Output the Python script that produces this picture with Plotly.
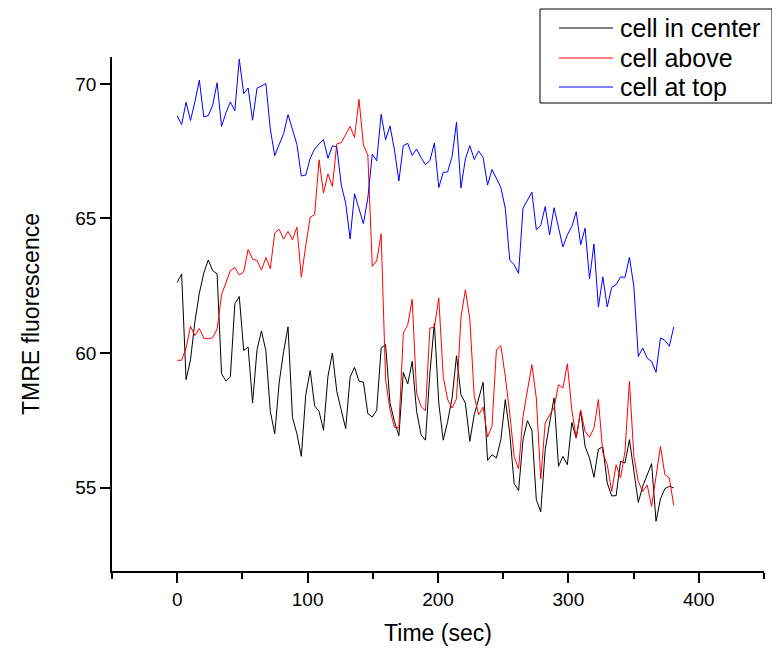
import plotly.graph_objects as go

# time axis: 113 frames, 3.4 s apart
n_frames = 113
frame_step = 3.4
time_sec = [round(i * frame_step, 1) for i in range(n_frames)]

cell_center = [
    62.62, 62.94, 59.01, 59.75, 61.17, 62.23, 62.97, 63.46, 63.06, 62.94,
    59.23, 58.96, 59.13, 61.83, 62.10, 60.09, 60.22, 58.14, 60.12, 60.82,
    60.09, 57.83, 57.00, 58.89, 60.06, 60.97, 57.61, 57.00, 56.16, 58.45,
    59.35, 58.04, 57.83, 57.13, 59.13, 60.00, 58.57, 57.83, 57.19, 59.11,
    59.47, 58.95, 58.92, 57.75, 57.62, 57.87, 60.19, 60.31, 58.14, 57.46,
    56.93, 59.28, 58.85, 59.69, 57.83, 56.97, 56.76, 59.26, 61.11, 58.14,
    56.76, 57.46, 58.33, 59.90, 58.45, 58.14, 56.72, 57.71, 58.33, 58.91,
    56.01, 56.22, 56.10, 56.78, 58.27, 57.03, 55.15, 54.89, 56.78, 57.49,
    57.13, 54.55, 54.10, 56.41, 57.40, 58.33, 55.79, 56.16, 55.85, 57.42,
    56.84, 57.87, 56.53, 56.10, 55.38, 56.43, 56.51, 55.17, 54.69, 54.70,
    55.98, 55.91, 56.78, 55.67, 54.45, 55.05, 55.48, 55.89, 53.75, 54.58,
    54.96, 55.05, 54.99,
]

cell_above = [
    59.73, 59.73, 60.19, 60.99, 60.65, 60.91, 60.55, 60.53, 60.57, 60.89,
    62.16, 62.60, 63.07, 63.17, 62.90, 63.01, 63.85, 63.49, 63.44, 63.08,
    63.55, 63.14, 64.46, 64.60, 64.23, 64.52, 64.21, 64.68, 62.82, 64.00,
    65.05, 65.14, 67.18, 65.94, 66.66, 66.19, 67.77, 67.82, 68.11, 68.42,
    68.01, 69.43, 67.73, 67.36, 63.22, 63.42, 64.43, 59.01, 57.89, 57.24,
    57.21, 60.74, 61.05, 62.00, 58.51, 58.01, 57.86, 60.93, 60.95, 62.04,
    59.13, 58.27, 57.96, 58.30, 61.32, 62.35, 61.26, 58.39, 57.71, 57.99,
    56.88, 57.28, 60.12, 60.27, 59.13, 57.77, 56.16, 55.69, 57.65, 58.64,
    59.57, 58.33, 55.32, 57.40, 57.71, 57.96, 58.82, 58.70, 59.60, 57.89,
    56.84, 57.87, 57.09, 56.87, 57.21, 58.27, 56.29, 55.85, 54.86, 55.85,
    55.36, 56.35, 58.95, 56.16, 55.23, 54.86, 55.10, 54.30, 55.36, 56.53,
    55.48, 55.36, 54.33,
]

cell_top = [
    68.81, 68.49, 69.32, 68.64, 69.34, 70.14, 68.77, 68.82, 69.21, 70.04,
    68.42, 68.93, 69.33, 69.00, 70.92, 69.64, 69.85, 68.65, 69.84, 69.94,
    70.01, 68.32, 67.33, 67.75, 68.15, 68.86, 68.28, 67.75, 66.58, 66.61,
    67.24, 67.58, 67.77, 67.93, 67.24, 67.70, 67.66, 66.25, 65.57, 64.24,
    65.92, 65.32, 64.81, 65.76, 67.39, 67.14, 68.87, 67.92, 68.44, 67.55,
    66.39, 67.71, 67.79, 67.34, 67.58, 67.26, 67.00, 67.15, 67.80, 66.15,
    66.71, 66.73, 67.30, 68.58, 66.13, 67.21, 67.71, 67.19, 67.51, 67.26,
    66.24, 66.82, 66.51, 66.15, 65.38, 63.46, 63.28, 62.96, 65.38, 65.69,
    65.98, 64.58, 64.74, 65.44, 64.39, 65.40, 64.64, 63.94, 64.39, 64.70,
    65.25, 64.02, 64.64, 62.75, 64.05, 61.71, 62.83, 61.71, 62.44, 62.54,
    62.83, 62.81, 63.56, 62.47, 59.87, 60.19, 59.81, 59.69, 59.28, 60.56,
    60.47, 60.25, 60.97,
]

series_names = ["cell in center", "cell above", "cell at top"]
series_colors = ["#000000", "#ff0000", "#0000ff"]

x_ticks = [0, 100, 200, 300, 400]
y_ticks = [55, 60, 65, 70]

# figure size / margins (page body adds 8px offset, so figure is 8px smaller)
W, H = 772, 641
ML, MR, MT, MB = 104, 8, 1, 78
paper_w = W - ML - MR
paper_h = H - MT - MB


def px_to_paper(px, py):
    # px, py in figure pixels
    return (px - ML) / paper_w, (H - MB - py) / paper_h


fig = go.Figure()
for name, vals, col in zip(series_names, [cell_center, cell_above, cell_top], series_colors):
    fig.add_trace(go.Scatter(x=time_sec, y=vals, mode="lines", name=name,
                             line=dict(color=col, width=1), showlegend=False))

axis_common = dict(showline=True, linecolor="black", linewidth=1.5, showgrid=False,
                   zeroline=False, ticks="outside", ticklen=10, tickwidth=1.5,
                   tickcolor="black", tickfont=dict(size=19, color="black"),
                   mirror=False, automargin=False)

fig.update_xaxes(range=[-50, 450], tickvals=x_ticks, domain=[0, 652 / paper_w],
                 minor=dict(tickvals=[-50, 50, 150, 250, 350, 450], ticks="outside",
                            ticklen=6, tickwidth=1.5, tickcolor="black"),
                 title=dict(text="Time (sec)", font=dict(size=23, color="black"), standoff=16),
                 **axis_common)
fig.update_yaxes(range=[51.9, 71.0], tickvals=y_ticks, domain=[0, 514 / paper_h],
                 title=dict(text="TMRE fluorescence", font=dict(size=23, color="black"), standoff=29),
                 **axis_common)

# hand-drawn legend box so the rows sit as tight as in the original
x0, y0 = px_to_paper(532, 1)
x1, y1 = px_to_paper(764, 95)
fig.add_shape(type="rect", xref="paper", yref="paper", x0=x0, y0=y0, x1=x1, y1=y1,
              line=dict(color="black", width=1), fillcolor="white", layer="above")
row_y = [20, 50, 79]
for name, col, ry in zip(series_names, series_colors, row_y):
    lx0, ly = px_to_paper(551, ry)
    lx1, _ = px_to_paper(605, ry)
    fig.add_shape(type="line", xref="paper", yref="paper", x0=lx0, y0=ly, x1=lx1, y1=ly,
                  line=dict(color=col, width=1), layer="above")
    tx, _ = px_to_paper(610, ry)
    fig.add_annotation(xref="paper", yref="paper", x=tx, y=ly, text=name, showarrow=False,
                       xanchor="left", yanchor="middle", font=dict(size=25, color="black"))

fig.update_layout(
    width=W, height=H,
    margin=dict(l=ML, r=MR, t=MT, b=MB),
    paper_bgcolor="white", plot_bgcolor="white",
    font=dict(family="Liberation Sans, Arial, sans-serif", color="black"),
    showlegend=False,
)

fig.write_html("out.html")
